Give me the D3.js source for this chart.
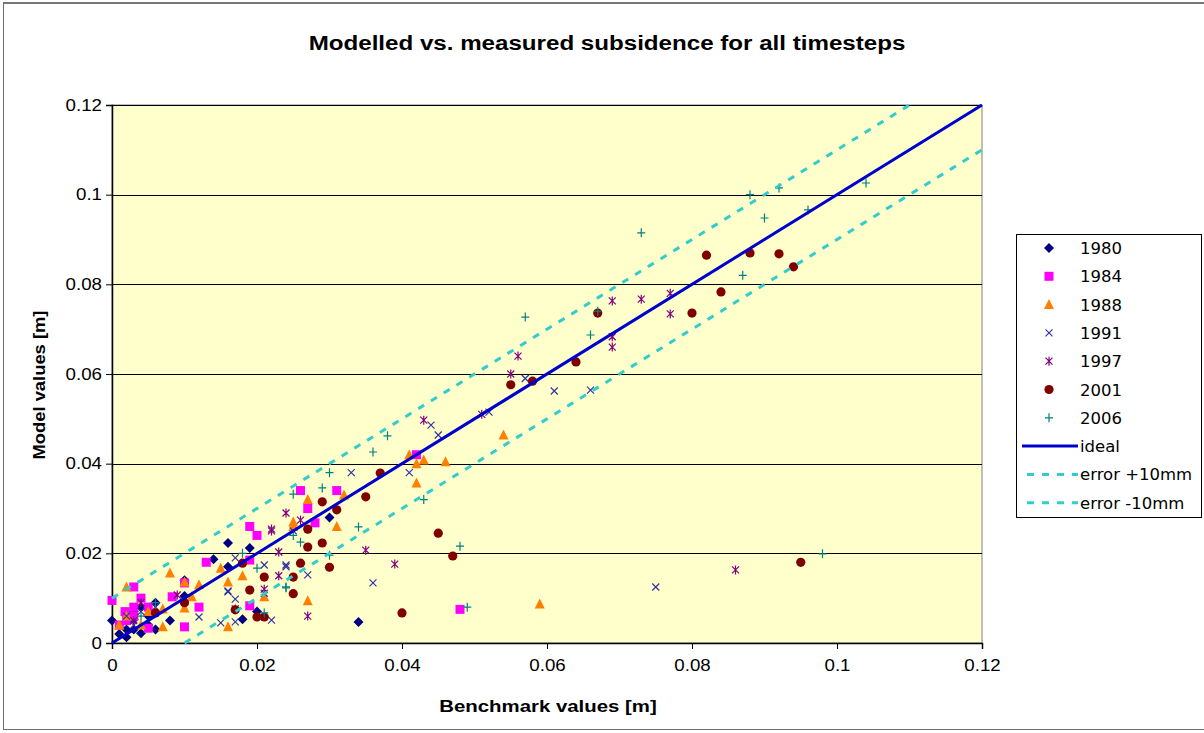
<!DOCTYPE html>
<html><head><meta charset="utf-8">
<script src="https://cdn.jsdelivr.net/npm/d3@7"></script>
<style>
html,body{margin:0;padding:0;background:#fff;}
svg{display:block;font-family:"Liberation Sans",Arial,sans-serif;}
</style></head>
<body>
<svg id="chart" width="1204" height="733"></svg>
<script>
// ---- data ----
const seriesNames = ["1980","1984","1988","1991","1997","2001","2006"];
const s1980 = [[0,0.005],[0.001,0.002],[0.002,0.0013],[0.003,0.0053],[0.003,0.003],[0.004,0.0022],[0.005,0.004],[0.005,0.006],[0.006,0.003],[0.008,0.005],[0.006,0.009],[0.010,0.0105],[0.010,0.014],[0.014,0.0187],[0.016,0.0223],[0.016,0.017],[0.019,0.0212],[0.018,0.0053],[0.020,0.007],[0.030,0.028],[0.034,0.0047],[0.002,0.003],[0.004,0.008],[0.003,0.007]];
const s1984 = [[0,0.0095],[0.0018,0.007],[0.001,0.004],[0.003,0.0125],[0.003,0.006],[0.004,0.010],[0.005,0.0033],[0.005,0.008],[0.0083,0.0103],[0.010,0.0134],[0.010,0.0036],[0.012,0.008],[0.013,0.018],[0.019,0.0185],[0.019,0.026],[0.020,0.024],[0.019,0.0083],[0.026,0.034],[0.027,0.030],[0.028,0.0268],[0.031,0.034],[0.042,0.042],[0.048,0.0075],[0.002,0.005],[0.003,0.008]];
const s1988 = [[0.001,0.004],[0.002,0.0125],[0.002,0.006],[0.004,0.004],[0.005,0.007],[0.007,0.0076],[0.007,0.0036],[0.008,0.0156],[0.010,0.0136],[0.010,0.0078],[0.011,0.0103],[0.012,0.013],[0.015,0.0167],[0.016,0.0136],[0.016,0.0036],[0.018,0.015],[0.021,0.0103],[0.025,0.026],[0.025,0.027],[0.027,0.032],[0.027,0.0094],[0.032,0.033],[0.031,0.026],[0.041,0.042],[0.042,0.040],[0.042,0.0357],[0.043,0.0408],[0.046,0.0404],[0.054,0.0464],[0.059,0.0087]];
const s1991 = [[0.002,0.006],[0.003,0.004],[0.004,0.007],[0.006,0.008],[0.012,0.0058],[0.015,0.0045],[0.016,0.0116],[0.016,0.0114],[0.017,0.0098],[0.017,0.0047],[0.017,0.019],[0.021,0.0174],[0.021,0.0111],[0.022,0.0051],[0.024,0.0174],[0.024,0.017],[0.025,0.025],[0.027,0.0152],[0.033,0.038],[0.036,0.0134],[0.041,0.038],[0.044,0.0486],[0.045,0.0464],[0.052,0.0515],[0.057,0.059],[0.061,0.0562],[0.066,0.0564],[0.075,0.0125]];
const s1997 = [[0.003,0.005],[0.004,0.009],[0.009,0.0107],[0.017,0.0076],[0.022,0.0254],[0.023,0.0203],[0.023,0.015],[0.021,0.012],[0.024,0.029],[0.026,0.0274],[0.022,0.025],[0.027,0.006],[0.035,0.0207],[0.039,0.0176],[0.043,0.0497],[0.051,0.051],[0.055,0.060],[0.056,0.064],[0.069,0.0763],[0.073,0.0767],[0.077,0.078],[0.077,0.0734],[0.069,0.0683],[0.069,0.066],[0.086,0.0163]];
const s2001 = [[0.006,0.0067],[0.010,0.009],[0.017,0.0074],[0.018,0.0178],[0.019,0.0118],[0.020,0.0058],[0.021,0.0058],[0.021,0.0147],[0.025,0.0147],[0.025,0.011],[0.026,0.0178],[0.027,0.0214],[0.027,0.0254],[0.029,0.0223],[0.029,0.0315],[0.030,0.0169],[0.031,0.0297],[0.035,0.0326],[0.037,0.0379],[0.040,0.0067],[0.045,0.0245],[0.047,0.0194],[0.055,0.0576],[0.058,0.0584],[0.064,0.0627],[0.067,0.0736],[0.080,0.0736],[0.084,0.0783],[0.082,0.0865],[0.088,0.087],[0.092,0.0868],[0.094,0.0839],[0.095,0.018]];
const s2006 = [[0.004,0.006],[0.006,0.009],[0.018,0.020],[0.020,0.0167],[0.021,0.0067],[0.024,0.0123],[0.024,0.0125],[0.025,0.0332],[0.025,0.024],[0.026,0.0225],[0.029,0.0346],[0.030,0.038],[0.030,0.0196],[0.034,0.0259],[0.036,0.0426],[0.038,0.0462],[0.043,0.032],[0.048,0.0216],[0.049,0.008],[0.057,0.0727],[0.066,0.0687],[0.067,0.074],[0.073,0.0915],[0.087,0.082],[0.088,0.100],[0.090,0.0948],[0.092,0.1015],[0.096,0.0966],[0.098,0.0199],[0.104,0.1026]];
const idealLine = [[0,0],[0.12,0.12]];
const errPlus = [[0,0.01],[0.11,0.12]];
const errMinus = [[0.01,0],[0.12,0.11]];
const lineNames = ["ideal","error +10mm","error -10mm"];
const xTicks = [0,0.02,0.04,0.06,0.08,0.1,0.12];
const yTicks = [0,0.02,0.04,0.06,0.08,0.1,0.12];

// ---- styles ----
const seriesData = [s1980,s1984,s1988,s1991,s1997,s2001,s2006];
const colors = ["#000080","#FF00FF","#FF8000","#3333A8","#800080","#800000","#008080"];
const shapes = ["diamond","square","triangle","x","star","circle","plus"];

const svg = d3.select("#chart");
const L=112,R=982,T=105,B=643;
const x = d3.scaleLinear().domain([0,0.12]).range([L,R]);
const y = d3.scaleLinear().domain([0,0.12]).range([B,T]);

// outer frame
svg.append("rect").attr("x",3.5).attr("y",3.5).attr("width",1210).attr("height",726)
  .attr("fill","#fff").attr("stroke","#6e6e6e").attr("stroke-width",1);
svg.append("line").attr("x1",3).attr("x2",1204).attr("y1",3).attr("y2",3).attr("stroke","#777").attr("stroke-width",2);

// plot bg
svg.append("rect").attr("x",L).attr("y",T).attr("width",R-L).attr("height",B-T)
  .attr("fill","#FFFFCC").attr("stroke","#808080").attr("stroke-width",1);

// gridlines
svg.append("g").selectAll("line").data(yTicks.filter(d=>d>0)).join("line")
  .attr("x1",L).attr("x2",R).attr("y1",d=>Math.round(y(d))+0.5).attr("y2",d=>Math.round(y(d))+0.5)
  .attr("stroke","#000").attr("stroke-width",1);

// axes
const SX = 1.17;
const fmt = d=>String(+d.toFixed(2));
const xAxis = d3.axisBottom(x).tickValues(xTicks).tickSize(6).tickPadding(11).tickFormat(fmt);
const yAxis = d3.axisLeft(y).tickValues(yTicks).tickSize(6).tickPadding(4).tickFormat(fmt);
const gx = svg.append("g").attr("transform",`translate(0,${B})`).call(xAxis);
const gy = svg.append("g").attr("transform",`translate(${L},0)`).call(yAxis);
[gx,gy].forEach(g=>{
  g.select(".domain").attr("stroke","#000").attr("stroke-width",1.5);
  g.selectAll(".tick line").attr("stroke","#000");
  g.selectAll(".tick text").attr("font-size",16).attr("fill","#000").attr("font-family","'Liberation Sans',Arial,sans-serif")
    .attr("transform",`scale(${SX},1)`);
});
gy.selectAll(".tick text").attr("x",-10/SX);

// marker drawing
function drawMarker(g, shape, color){
  switch(shape){
    case "diamond": g.append("path").attr("d","M0,-5L5,0L0,5L-5,0Z").attr("fill",color); break;
    case "square": g.append("rect").attr("x",-4.5).attr("y",-4.5).attr("width",9).attr("height",9).attr("fill",color); break;
    case "triangle": g.append("path").attr("d","M0,-5.5L5,4.5L-5,4.5Z").attr("fill",color); break;
    case "circle": g.append("circle").attr("r",4.6).attr("fill",color); break;
    case "x": g.append("path").attr("d","M-3.5,-3.5L3.5,3.5M-3.5,3.5L3.5,-3.5").attr("stroke",color).attr("stroke-width",1.2).attr("fill","none"); break;
    case "star": g.append("path").attr("d","M-3.5,-3.5L3.5,3.5M-3.5,3.5L3.5,-3.5M0,-4.5L0,4.5").attr("stroke",color).attr("stroke-width",1.2).attr("fill","none"); break;
    case "plus": g.append("path").attr("d","M-4,0L4,0M0,-4.5L0,4.5").attr("stroke",color).attr("stroke-width",1.2).attr("fill","none"); break;
  }
}

const pts = svg.append("g");
seriesData.forEach((data,i)=>{
  const gs = pts.append("g");
  data.forEach(p=>{
    const g = gs.append("g").attr("transform",`translate(${x(p[0])},${y(p[1])})`);
    drawMarker(g, shapes[i], colors[i]);
  });
});

// lines
const line = d3.line().x(d=>x(d[0])).y(d=>y(d[1]));
svg.append("path").datum(errPlus).attr("d",line).attr("fill","none").attr("stroke","#33CCCC").attr("stroke-width",3).attr("stroke-dasharray","7,8");
svg.append("path").datum(errMinus).attr("d",line).attr("fill","none").attr("stroke","#33CCCC").attr("stroke-width",3).attr("stroke-dasharray","7,8");
svg.append("path").datum(idealLine).attr("d",line).attr("fill","none").attr("stroke","#0000CC").attr("stroke-width",3);

// titles (horizontally stretched like the reference)
svg.append("text").attr("transform","translate(607,50) scale(1.15,1)").attr("text-anchor","middle").attr("font-size",21).attr("font-weight","bold").attr("fill","#000")
  .text("Modelled vs. measured subsidence for all timesteps");
svg.append("text").attr("transform","translate(548,712) scale(1.2,1)").attr("text-anchor","middle").attr("font-size",17).attr("font-weight","bold").attr("fill","#000")
  .text("Benchmark values [m]");
svg.append("text").attr("transform","translate(45,385) rotate(-90) scale(1.08,1)").attr("text-anchor","middle").attr("font-size",17).attr("font-weight","bold").attr("fill","#000")
  .text("Model values [m]");

// legend
const lg = svg.append("g");
lg.append("rect").attr("x",1016.5).attr("y",234.5).attr("width",185).attr("height",283).attr("fill","#fff").attr("stroke","#000").attr("stroke-width",1);
const rowY = i => 248 + i*28.3;
const legFont = "'DejaVu Sans',Verdana,sans-serif";
seriesNames.forEach((n,i)=>{
  const g = lg.append("g").attr("transform",`translate(1049,${rowY(i)})`);
  drawMarker(g, shapes[i], colors[i]);
  lg.append("text").attr("x",1080).attr("y",rowY(i)+6).attr("font-size",16.5).attr("font-family",legFont).attr("fill","#000").text(n);
});
const lineStyles = [{c:"#0000CC",d:null},{c:"#33CCCC",d:"7,8"},{c:"#33CCCC",d:"7,8"}];
lineNames.forEach((n,i)=>{
  const yy = rowY(7+i);
  const l = lg.append("line").attr("x1",i===0?1022:1027).attr("x2",1078).attr("y1",yy).attr("y2",yy).attr("stroke",lineStyles[i].c).attr("stroke-width",3);
  if(lineStyles[i].d) l.attr("stroke-dasharray",lineStyles[i].d);
  lg.append("text").attr("x",1080).attr("y",yy+6).attr("font-size",16.5).attr("font-family",legFont).attr("fill","#000").text(n);
});
</script>
</body></html>
